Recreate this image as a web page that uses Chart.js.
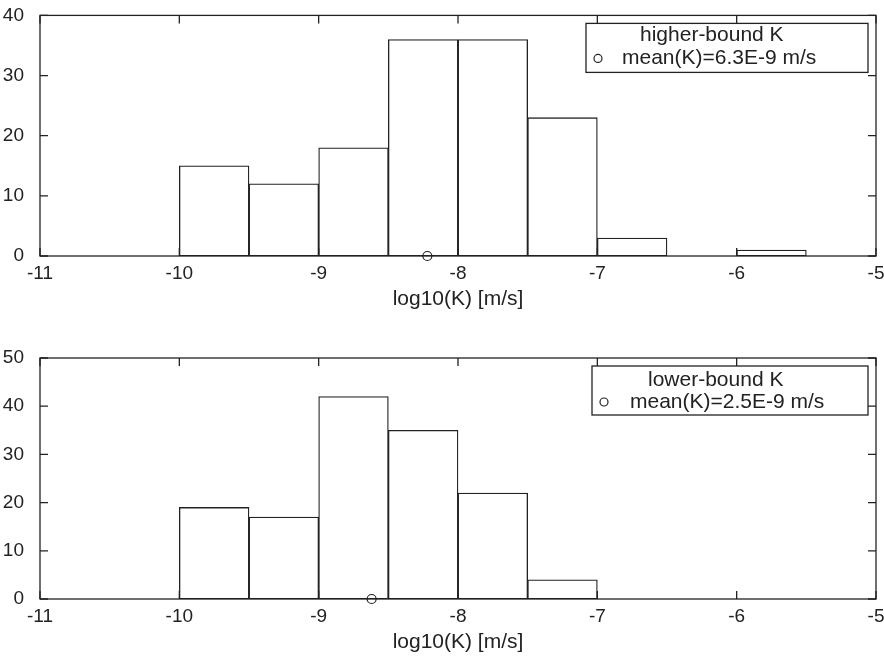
<!DOCTYPE html>
<html>
<head>
<meta charset="utf-8">
<script src="https://cdn.jsdelivr.net/npm/chart.js@4.4.1/dist/chart.umd.min.js"></script>
<style>
body { margin: 0; background: #fff; }
#top { position: absolute; left: 0; top: -4px; width: 884px; height: 318px; }
#bottom { position: absolute; left: 0; top: 314px; width: 884px; height: 342px; }
</style>
</head>
<body>
<div id="top"><canvas id="chartHigh"></canvas></div>
<div id="bottom"><canvas id="chartLow"></canvas></div>
<script>
// Klassenmitten log10(K), Breite 0.5
var binsHigh = [-9.75, -9.25, -8.75, -8.25, -7.75, -7.25, -6.75, -6.25, -5.75];
var countsHigh = [15, 12, 18, 36, 36, 23, 3, 0, 1];
var binsLow = [-9.75, -9.25, -8.75, -8.25, -7.75, -7.25];
var countsLow = [19, 17, 42, 35, 22, 4];
var meanHigh = -8.22;
var meanLow = -8.62;
var xTicks = [-11, -10, -9, -8, -7, -6, -5];
var yTicksHigh = [0, 10, 20, 30, 40];
var yTicksLow = [0, 10, 20, 30, 40, 50];
var legendHigh = ['higher-bound K', 'mean(K)=6.3E-9 m/s'];
var legendLow = ['lower-bound K', 'mean(K)=2.5E-9 m/s'];
var xTitle = 'log10(K) [m/s]';

var FONT = '"Liberation Sans", Arial, Helvetica, sans-serif';
var INK = '#222';

// Rahmen mit nach innen zeigenden Ticks (Matlab-Stil)
var framePlugin = {
    id: 'frame',
    afterDatasetsDraw: function (chart) {
        var ctx = chart.ctx;
        var a = chart.chartArea;
        var xs = chart.scales.x, ys = chart.scales.y;
        var len = 8;
        ctx.save();
        ctx.strokeStyle = INK;
        ctx.lineWidth = 1.3;
        ctx.strokeRect(a.left, a.top, a.right - a.left, a.bottom - a.top);
        ctx.beginPath();
        xs.ticks.forEach(function (t) {
            var px = xs.getPixelForValue(t.value);
            ctx.moveTo(px, a.bottom); ctx.lineTo(px, a.bottom - len);
            ctx.moveTo(px, a.top); ctx.lineTo(px, a.top + len);
        });
        ys.ticks.forEach(function (t) {
            var py = ys.getPixelForValue(t.value);
            ctx.moveTo(a.left, py); ctx.lineTo(a.left + len, py);
            ctx.moveTo(a.right, py); ctx.lineTo(a.right - len, py);
        });
        ctx.stroke();
        ctx.restore();
    }
};

// Legende als Kasten oben rechts
var legendPlugin = {
    id: 'boxLegend',
    afterDraw: function (chart, args, opts) {
        var ctx = chart.ctx;
        var a = chart.chartArea;
        var x0 = a.right - 8 - opts.width;
        var y0 = a.top + 8;
        ctx.save();
        ctx.fillStyle = '#fff';
        ctx.fillRect(x0, y0, opts.width, opts.height);
        ctx.strokeStyle = INK;
        ctx.lineWidth = 1.3;
        ctx.strokeRect(x0, y0, opts.width, opts.height);
        ctx.fillStyle = INK;
        ctx.font = '21px ' + FONT;
        ctx.textBaseline = 'middle';
        ctx.fillText(opts.lines[0], x0 + opts.title_dx, y0 + opts.line1_dy);
        ctx.fillText(opts.lines[1], x0 + opts.text_dx, y0 + opts.line2_dy);
        ctx.beginPath();
        ctx.arc(x0 + opts.marker_dx, y0 + opts.line2_dy, 4, 0, Math.PI * 2);
        ctx.lineWidth = 1.2;
        ctx.stroke();
        ctx.restore();
    }
};

function makeChart(id, bins, counts, mean, yTicks, legendLines, layout) {
    var ctx = document.getElementById(id).getContext('2d');
    return new Chart(ctx, {
        type: 'bar',
        data: {
            datasets: [{
                type: 'scatter',
                data: [{ x: mean, y: 0 }],
                pointStyle: 'circle',
                pointRadius: 4.5,
                borderColor: INK,
                borderWidth: 1.2,
                backgroundColor: 'rgba(0,0,0,0)',
                clip: false,
                order: 0
            }, {
                data: bins.map(function (b, i) { return { x: b, y: counts[i] }; }),
                backgroundColor: '#fff',
                borderColor: INK,
                borderWidth: 1.3,
                borderSkipped: false,
                barPercentage: 1,
                categoryPercentage: 1,
                order: 1
            }]
        },
        options: {
            responsive: true,
            maintainAspectRatio: false,
            animation: false,
            layout: { padding: { left: 0, right: 8, top: layout.top, bottom: 0 } },
            plugins: {
                legend: { display: false },
                tooltip: { enabled: false },
                boxLegend: {
                    lines: legendLines,
                    width: layout.legendW, height: 49,
                    title_dx: layout.titleDx, text_dx: layout.textDx, marker_dx: 12,
                    line1_dy: layout.line1, line2_dy: layout.line2
                }
            },
            scales: {
                x: {
                    type: 'linear',
                    min: xTicks[0],
                    max: xTicks[xTicks.length - 1],
                    offset: false,
                    grid: { display: false, offset: false },
                    border: { display: false },
                    afterBuildTicks: function (s) { s.ticks = xTicks.map(function (v) { return { value: v }; }); },
                    afterFit: function (s) { s.height = layout.xHeight; },
                    ticks: { color: INK, font: { family: FONT, size: 19 }, padding: -2 },
                    title: { display: true, text: xTitle, color: INK, font: { family: FONT, size: 21 }, padding: { top: 0, bottom: layout.titlePad } }
                },
                y: {
                    min: yTicks[0],
                    max: yTicks[yTicks.length - 1],
                    grid: { display: false },
                    border: { display: false },
                    afterBuildTicks: function (s) { s.ticks = yTicks.map(function (v) { return { value: v }; }); },
                    afterFit: function (s) { s.width = 40; },
                    ticks: { color: INK, font: { family: FONT, size: 19 }, padding: 8 }
                }
            }
        },
        plugins: [framePlugin, legendPlugin]
    });
}

makeChart('chartHigh', binsHigh, countsHigh, meanHigh, yTicksHigh, legendHigh,
    { top: 15, xHeight: 58, titlePad: 2, legendW: 282, titleDx: 54, textDx: 36, line1: 12, line2: 35 });
makeChart('chartLow', binsLow, countsLow, meanLow, yTicksLow, legendLow,
    { top: 44, xHeight: 57, titlePad: 1, legendW: 276, titleDx: 56, textDx: 38, line1: 14, line2: 36 });
</script>
</body>
</html>
